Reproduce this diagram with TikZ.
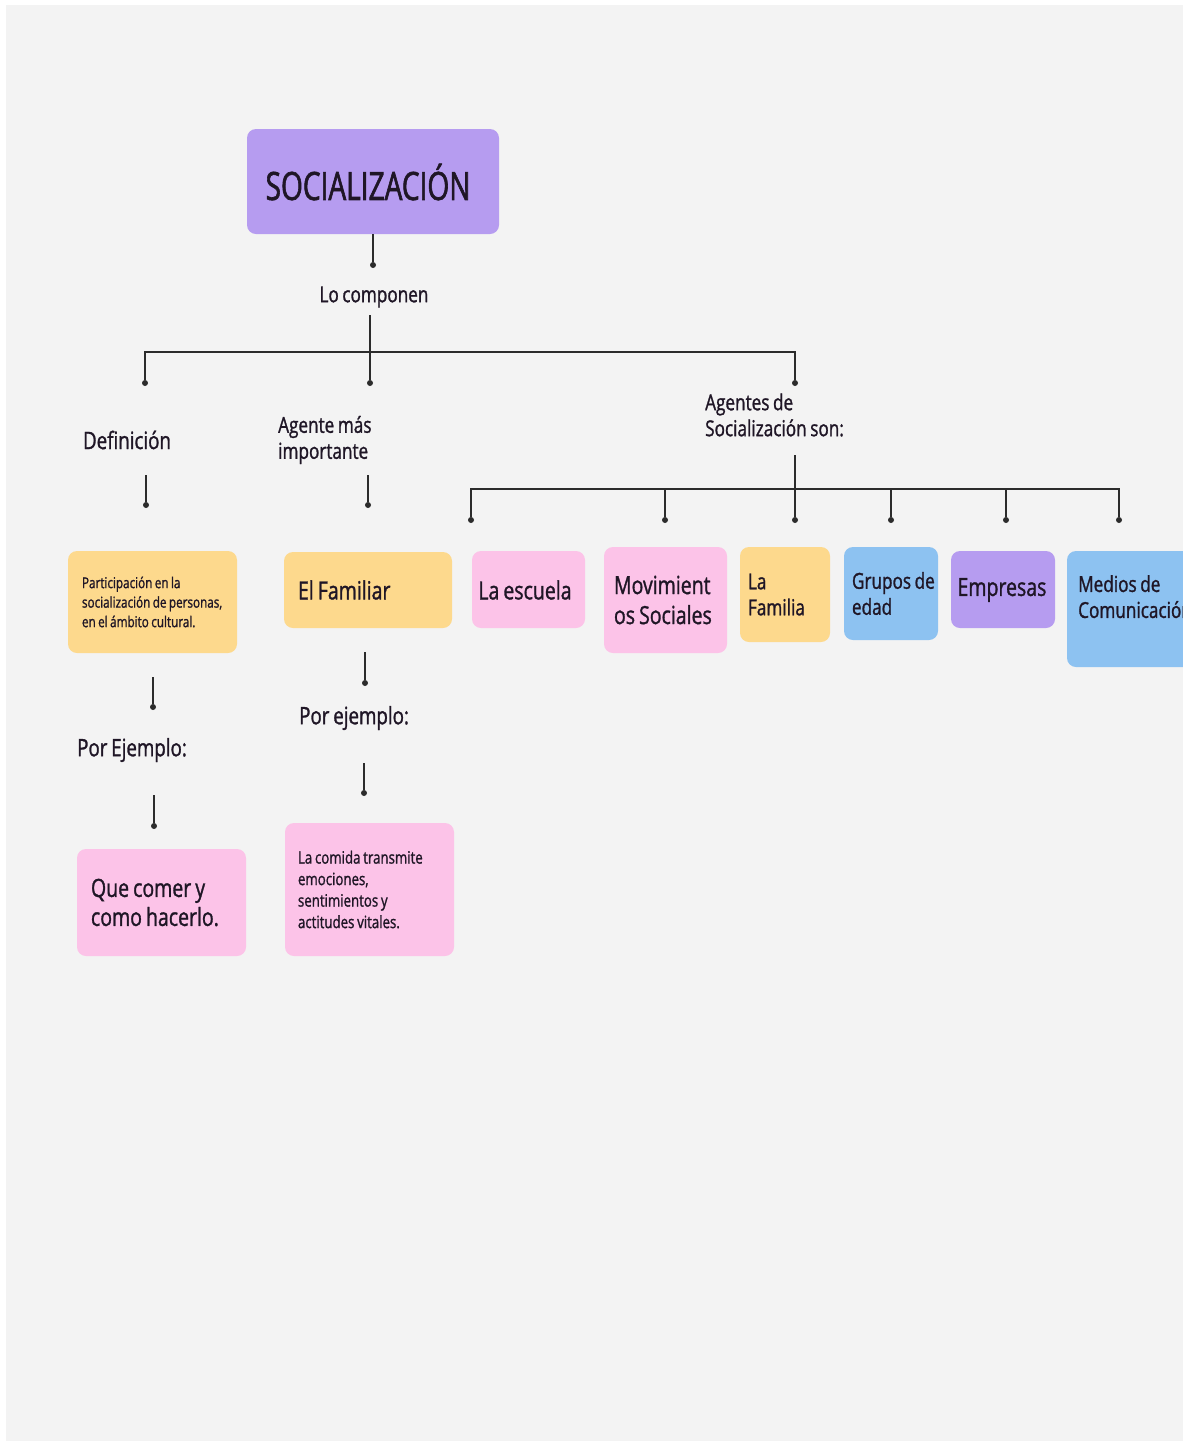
\documentclass[tikz,border=0pt]{standalone}
\usepackage{fontspec}
\setmainfont{Open Sans}[FakeStretch=0.78,FakeBold=1.2,WordSpace=0.8]
\newfontfamily\titlefont{Open Sans}[FakeStretch=0.72,FakeBold=1.5]
\definecolor{bgc}{HTML}{F3F3F3}
\definecolor{purp}{HTML}{B69CF0}
\definecolor{yel}{HTML}{FDD98D}
\definecolor{pinkc}{HTML}{FCC3E8}
\definecolor{bluec}{HTML}{8DC2F1}
\definecolor{ink}{HTML}{1F1626}
\definecolor{linec}{HTML}{2B2B2B}
\begin{document}
\begin{tikzpicture}[x=1pt,y=-1pt,
  box/.style={rounded corners=9pt, inner sep=0pt},
  lbl/.style={inner sep=0pt, align=left, text=ink},
  conn/.style={draw=linec, line width=1.8pt},
  dotc/.style={circle, fill=linec, inner sep=0pt, minimum size=6pt},
  fbig/.style={font=\fontsize{25}{30}\selectfont},
  fmid/.style={font=\fontsize{22}{26}\selectfont},
  fsmall/.style={font=\fontsize{15}{19.5}\selectfont}]
\clip (0,0) rectangle (1183,1441);
\fill[white] (0,0) rectangle (1183,1441);
\fill[bgc] (6,5) rectangle (1183,1441);

% title
\node[box, fill=purp, minimum width=252, minimum height=105] (title) at (373,181.5) {};
\node[lbl, font=\titlefont\fontsize{39}{44}\selectfont] (titlet) at (368,182) {SOCIALIZACIÓN};
\node[dotc] (d0) at (373,265) {};
\draw[conn] (title.south) -- (d0);

\node[lbl, fmid] (lo) at (374,297) {Lo componen};
\coordinate (lotop) at (370,315);
\node[dotc] (dmid) at (370,383) {};
\draw[conn] (lotop) -- (dmid);

\node[dotc] (dleft) at (145,383) {};
\node[dotc] (dright) at (795,383) {};
\draw[conn] (dleft) -- (145,352) -- (795,352) -- (dright);

% second-level labels
\node[lbl, font=\fontsize{24}{28}\selectfont] (defl) at (127,440) {Definición};
\node[lbl, fmid, anchor=west] (agm) at (278,440) {Agente más\\importante};
\node[lbl, fmid, anchor=west] (ags) at (705,415) {Agentes de\\Socialización son:};

\coordinate (defa) at (146,475);
\node[dotc] (defd) at (146,505) {};
\draw[conn] (defa) -- (defd);
\coordinate (agma) at (368,475);
\node[dotc] (agmd) at (368,505) {};
\draw[conn] (agma) -- (agmd);

% agentes bar
\coordinate (agsa) at (795,455);
\node[dotc] (a3) at (795,520) {};
\draw[conn] (agsa) -- (a3);
\node[dotc] (a1) at (471,520) {};
\node[dotc] (a2) at (665,520) {};
\node[dotc] (a4) at (891,520) {};
\node[dotc] (a5) at (1006,520) {};
\node[dotc] (a6) at (1119,520) {};
\draw[conn] (a1) -- (471,489) -- (1119,489) -- (a6);
\draw[conn] (665,489) -- (a2);
\draw[conn] (891,489) -- (a4);
\draw[conn] (1006,489) -- (a5);

% boxes row
\node[box, fill=yel, minimum width=169, minimum height=102] (def) at (152.5,602) {};
\node[lbl, fsmall, anchor=west] (deft) at ([xshift=14]def.west)
  {Participación en la\\socialización de personas,\\en el ámbito cultural.};
\node[box, fill=yel, minimum width=168, minimum height=76] (fam) at (368,590) {};
\node[lbl, fbig, anchor=west] (famt) at ([xshift=14]fam.west) {El Familiar};
\node[box, fill=pinkc, minimum width=113, minimum height=77] (esc) at (528.5,589.5) {};
\node[lbl, fbig] (esct) at (525,590) {La escuela};
\node[box, fill=pinkc, minimum width=123, minimum height=106] (mov) at (665.5,600) {};
\node[lbl, fbig, anchor=west] (movt) at ([xshift=10]mov.west) {Movimient\\os Sociales};
\node[box, fill=yel, minimum width=90, minimum height=95] (lafam) at (785,594.5) {};
\node[lbl, fmid, anchor=west] (lafamt) at ([xshift=8]lafam.west) {La\\Familia};
\node[box, fill=bluec, minimum width=94, minimum height=93] (grup) at (891,593.5) {};
\node[lbl, fmid, anchor=west] (grupt) at ([xshift=8]grup.west) {Grupos de\\edad};
\node[box, fill=purp, minimum width=104, minimum height=77] (emp) at (1003,589.5) {};
\node[lbl, fbig] (empt) at (1002,590) {Empresas};
\node[box, fill=bluec, minimum width=128, minimum height=116] (med) at (1131,609) {};
\node[lbl, fmid, anchor=north west] (medt) at (1078,575) {Medios de\\Comunicación};

% third level
\coordinate (defb) at (153,677);
\node[dotc] (defb2) at (153,707) {};
\draw[conn] (defb) -- (defb2);
\node[lbl, font=\fontsize{24}{28}\selectfont, anchor=west] (pe1) at (77,750) {Por Ejemplo:};
\coordinate (pe1a) at (154,795);
\node[dotc] (pe1d) at (154,826) {};
\draw[conn] (pe1a) -- (pe1d);

\coordinate (famb) at (365,652);
\node[dotc] (famd) at (365,683) {};
\draw[conn] (famb) -- (famd);
\node[lbl, font=\fontsize{24}{28}\selectfont, anchor=west] (pe2) at (299,718) {Por ejemplo:};
\coordinate (pe2a) at (364,763);
\node[dotc] (pe2d) at (364,793) {};
\draw[conn] (pe2a) -- (pe2d);

\node[box, fill=pinkc, minimum width=169, minimum height=107] (que) at (161.5,902.5) {};
\node[lbl, font=\fontsize{25}{29}\selectfont, anchor=west] (quet) at ([xshift=14]que.west) {Que comer y\\como hacerlo.};
\node[box, fill=pinkc, minimum width=169, minimum height=133] (com) at (369.5,889.5) {};
\node[lbl, font=\fontsize{17}{21.5}\selectfont, anchor=west] (comt) at ([xshift=13]com.west)
  {La comida transmite\\emociones,\\sentimientos y\\actitudes vitales.};
\end{tikzpicture}
\end{document}
